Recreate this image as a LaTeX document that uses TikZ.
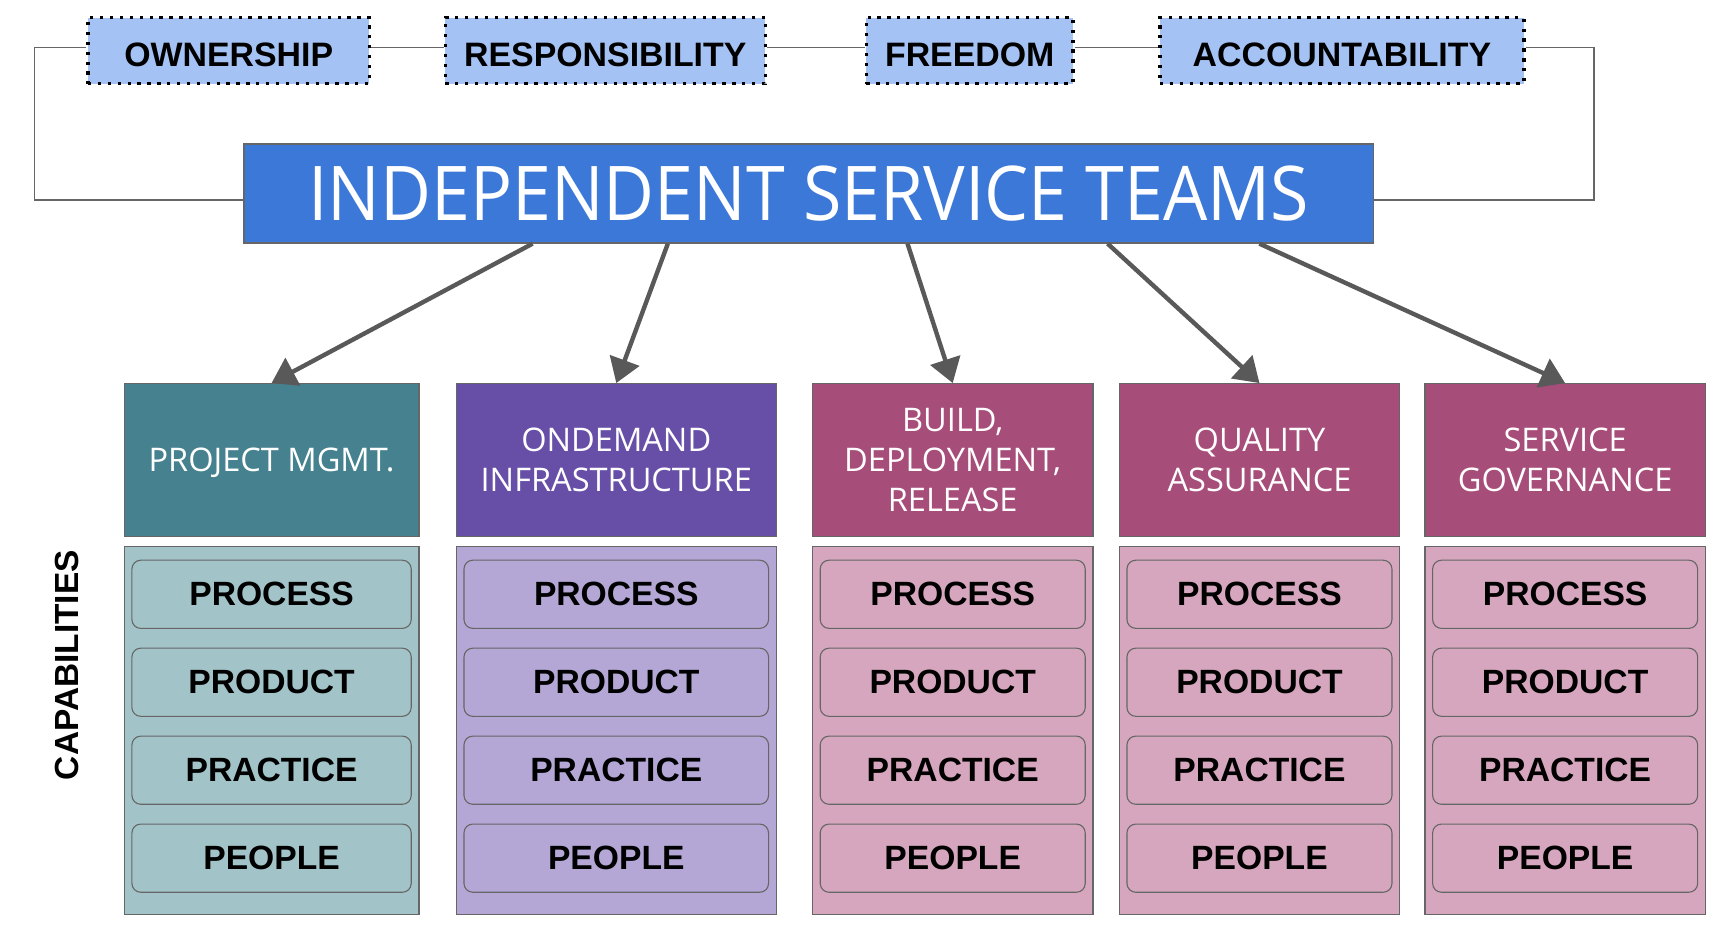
\documentclass[tikz,border=0pt]{standalone}
\usepackage{fontspec}
\usepackage{graphicx}
\setmainfont{Liberation Sans}
\newfontfamily\hdrfont{Open Sans}
\usetikzlibrary{arrows.meta,calc}

\definecolor{valuefill}{HTML}{A4C2F4}
\definecolor{teamsfill}{HTML}{3C78D8}
\definecolor{tealhead}{HTML}{45818E}
\definecolor{tealbody}{HTML}{A2C4C9}
\definecolor{purphead}{HTML}{674EA7}
\definecolor{purpbody}{HTML}{B4A7D6}
\definecolor{maghead}{HTML}{A64D79}
\definecolor{magbody}{HTML}{D5A6BD}
\definecolor{edgegray}{HTML}{666666}
\definecolor{arrowgray}{HTML}{595959}

\begin{document}
\begin{tikzpicture}[x=0.5pt,y=-0.5pt,
  value/.style={draw=black, line width=1.5pt, dash pattern=on 1.5pt off 3pt,
    fill=valuefill, minimum height=30pt, inner sep=0pt,
    text height=14.9pt, text depth=0pt,
    font=\bfseries\fontsize{15.4}{18}\selectfont},
  teams/.style={draw=edgegray, line width=0.6pt, fill=teamsfill, text=white,
    minimum width=513.5pt, minimum height=45pt, inner sep=0pt,
    font=\hdrfont\fontsize{31.8}{36}\selectfont},
  link/.style={draw=edgegray, line width=0.7pt},
  arr/.style={draw=arrowgray, line width=2pt,
    -{Triangle[length=11pt,width=14pt]}},
  head/.style={draw=edgegray, line width=0.6pt, text=white, align=center,
    minimum height=69.5pt, inner sep=0pt, text depth=0pt,
    font=\hdrfont\fontsize{14.8}{18.2}\selectfont},
  body/.style={draw=edgegray, line width=0.6pt, minimum height=167.5pt,
    inner sep=0pt},
  capbox/.style={draw=edgegray, line width=0.5pt, rounded corners=4pt,
    minimum height=31pt, inner sep=0pt,
    font=\bfseries\fontsize{15.3}{18}\selectfont}]

\useasboundingbox (0,0) rectangle (1568,862);

% values across the top
\node[value, minimum width=128pt]   (own)  at (208,46)    {OWNERSHIP};
\node[value, minimum width=145.5pt] (resp) at (550.5,46)  {RESPONSIBILITY};
\node[value, minimum width=94pt]    (free) at (882,46)    {FREEDOM};
\node[value, minimum width=165.5pt] (acc)  at (1220.5,46) {ACCOUNTABILITY};

% central team box
\node[teams] (main) at (735.5,176) {\scalebox{1}[1.08]{INDEPENDENT SERVICE TEAMS}};

% frame linking the values with the teams
\draw[link] ([yshift=1.5pt]own.east)  -- ([yshift=1.5pt]resp.west);
\draw[link] ([yshift=1.5pt]resp.east) -- ([yshift=1.5pt]free.west);
\draw[link] ([yshift=1.5pt]free.east) -- ([yshift=1.5pt]acc.west);
\draw[link] ([yshift=1.5pt]own.west) -- ++(-23.5pt,0) |- ([yshift=-3pt]main.west);
\draw[link] ([yshift=1.5pt]acc.east) -- ++(31pt,0) |- ([yshift=-3pt]main.east);

% capability columns
\foreach \n/\x/\w/\hc/\bc/\t in {
  1/247/268/tealhead/tealbody/{PROJECT MGMT.},
  2/560.5/291/purphead/purpbody/{ONDEMAND\\INFRASTRUCTURE},
  3/866.5/255/maghead/magbody/{BUILD,\\DEPLOYMENT,\\RELEASE},
  4/1145.5/255/maghead/magbody/{QUALITY\\ASSURANCE},
  5/1423.5/255/maghead/magbody/{SERVICE\\GOVERNANCE}}
{
  \node[head, fill=\hc, minimum width=\w*0.5pt] (h\n) at (\x,418.5) {\t};
  \node[body, fill=\bc, minimum width=\w*0.5pt] (b\n) at (\x,664.5) {};
  \foreach \j/\lab in {1/PROCESS,2/PRODUCT,3/PRACTICE,4/PEOPLE}
    \node[capbox, minimum width=(\w-14)*0.5pt] (c\n-\j) at (\x,460.5+80*\j) {\lab};
}

% arrows from the teams to each area
\draw[arr] ($(main.south west)+(263,0)$) -- (h1.north);
\draw[arr] ($(main.south west)+(386,0)$) -- (h2.north);
\draw[arr] ($(main.south west)+(604,0)$) -- (h3.north);
\draw[arr] ($(main.south west)+(786,0)$) -- (h4.north);
\draw[arr] ($(main.south west)+(924,0)$) -- (h5.north);

% side label
\node[rotate=90, font=\bfseries\fontsize{15.2}{18}\selectfont] (capl) at (61,605) {CAPABILITIES};

\end{tikzpicture}
\end{document}
